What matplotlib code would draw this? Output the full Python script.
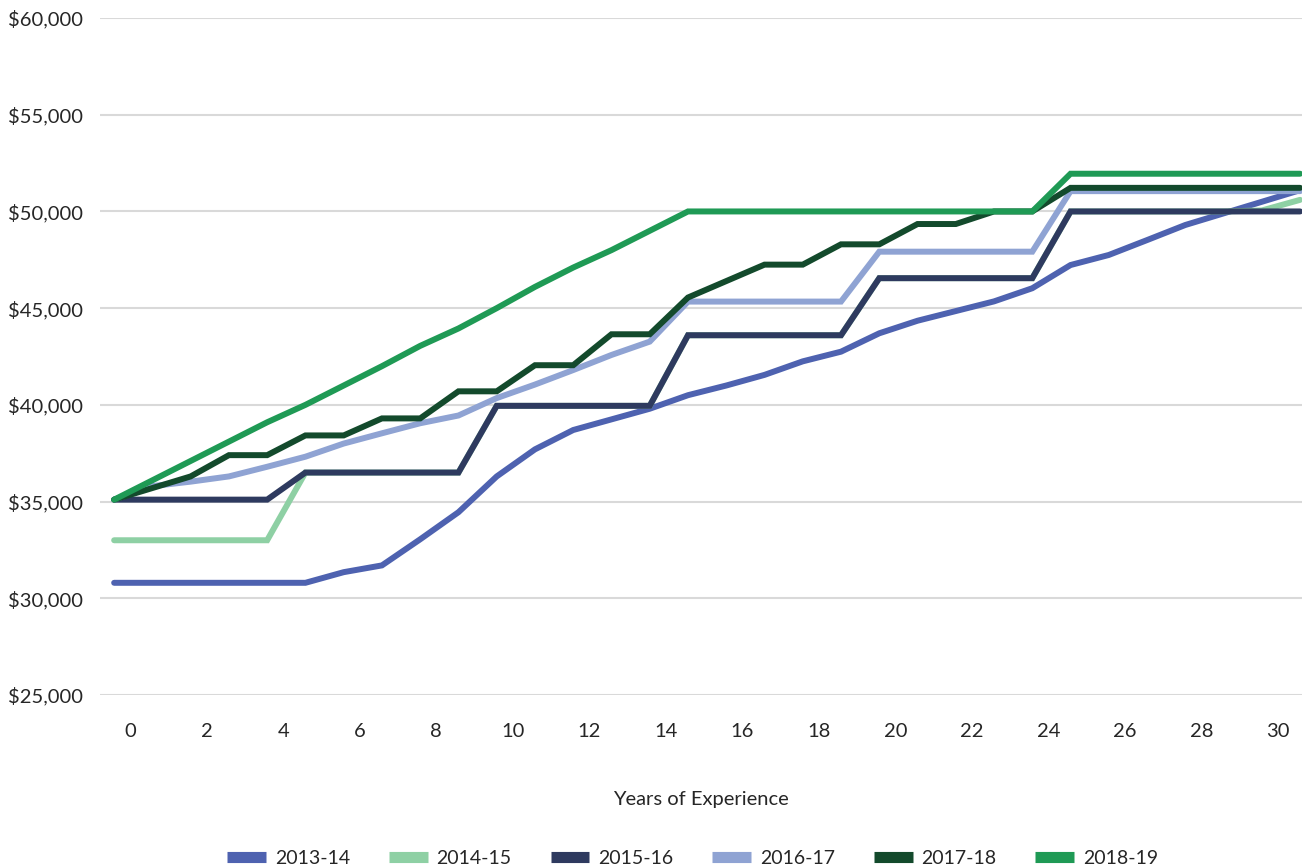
import numpy as np
import matplotlib.pyplot as plt
from matplotlib.lines import Line2D
from matplotlib.ticker import FuncFormatter

plt.rcParams['font.family'] = ['Lato', 'DejaVu Sans']

# Salary schedule steps (32 steps, step 0..31)
steps = np.arange(32)

s2013 = [30800, 30800, 30800, 30800, 30800, 30800, 31350, 31700, 33050, 34450,
         36300, 37700, 38700, 39250, 39800, 40500, 41000, 41550, 42250, 42750,
         43700, 44350, 44850, 45350, 46030, 47230, 47750, 48520, 49300, 49900,
         50500, 51100]
s2014 = [33000, 33000, 33000, 33000, 33000, 36500, 36500, 36500, 36500, 36500,
         39950, 39950, 39950, 39950, 39950, 43600, 43600, 43600, 43600, 43600,
         46550, 46550, 46550, 46550, 46550, 50000, 50000, 50000, 50000, 50000,
         50050, 50600]
s2015 = [35100, 35100, 35100, 35100, 35100, 36500, 36500, 36500, 36500, 36500,
         39950, 39950, 39950, 39950, 39950, 43600, 43600, 43600, 43600, 43600,
         46550, 46550, 46550, 46550, 46550, 50000, 50000, 50000, 50000, 50000,
         50000, 50000]
s2016 = [35100, 35800, 36030, 36300, 36800, 37320, 38000, 38530, 39050, 39450,
         40350, 41050, 41800, 42580, 43270, 45340, 45340, 45340, 45340, 45340,
         47920, 47920, 47920, 47920, 47920, 51050, 51050, 51050, 51050, 51050,
         51050, 51050]
s2017 = [35100, 35700, 36300, 37400, 37400, 38420, 38420, 39300, 39300, 40700,
         40700, 42050, 42050, 43650, 43650, 45550, 46400, 47250, 47250, 48300,
         48300, 49350, 49350, 50000, 50000, 51220, 51220, 51220, 51220, 51220,
         51220, 51220]
s2018 = [35100, 36100, 37100, 38100, 39100, 40000, 41000, 42000, 43050, 43950,
         45000, 46100, 47100, 48000, 49000, 50000, 50000, 50000, 50000, 50000,
         50000, 50000, 50000, 50000, 50000, 51950, 51950, 51950, 51950, 51950,
         51950, 51950]

labels = ['2013-14', '2014-15', '2015-16', '2016-17', '2017-18', '2018-19']
colors = ['#4E62B0', '#8ED0A4', '#2E3A5F', '#8FA3D3', '#134A2C', '#1F9A55']
series = [s2013, s2014, s2015, s2016, s2017, s2018]

# x tick labels sit slightly right of the step positions in the original
tick_years = np.arange(0, 31, 2)
tick_offset = 0.42

fig = plt.figure(figsize=(13.02, 8.67), dpi=100)
ax = fig.add_axes([0.0768, 0.1984, 0.9232, 0.7808])

for vals, lab, col in zip(series, labels, colors):
    ax.plot(steps, vals, color=col, lw=4.3, label=lab, solid_capstyle='round',
            solid_joinstyle='miter')

ax.set_xlim(-0.37, 31.05)
ax.set_ylim(25000, 60000)
ax.set_yticks(np.arange(25000, 60001, 5000))
ax.yaxis.set_major_formatter(FuncFormatter(lambda v, p: f'${v:,.0f}'))
ax.set_xticks(tick_years + tick_offset)
ax.set_xticklabels([str(t) for t in tick_years])

ax.grid(axis='y', color='#D9D9D9', lw=1.5)
ax.set_axisbelow(True)
for sp in ax.spines.values():
    sp.set_visible(False)
ax.tick_params(axis='both', length=0, labelsize=14.5, colors='#262626')
ax.tick_params(axis='y', pad=12)
ax.tick_params(axis='x', pad=20)

ax.set_xlabel('Years of Experience', fontsize=14.5, color='#262626', labelpad=37)

handles = [Line2D([0], [0], color=c, lw=8, solid_capstyle='butt') for c in colors]
fig.legend(handles, labels, loc='lower center', bbox_to_anchor=(0.532, -0.02),
           ncol=6, frameon=False, fontsize=14, handlelength=2.0,
           columnspacing=2.0, handletextpad=0.45, labelcolor='#262626')

fig.savefig('out.png', dpi=100)
